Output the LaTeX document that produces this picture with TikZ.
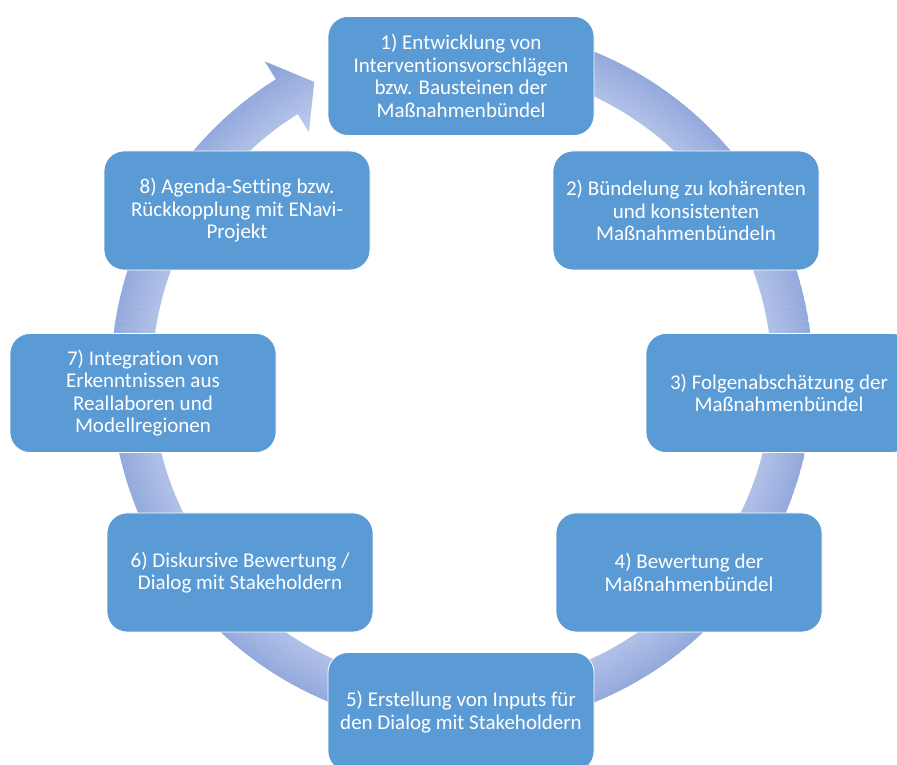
\documentclass[tikz,border=0pt]{standalone}
\usepackage{fontspec}
\setmainfont[Ligatures={NoCommon,NoContextual},Contextuals=NoAlternate]{Carlito}
\usetikzlibrary{calc}
\definecolor{boxblue}{HTML}{5B9BD5}
\definecolor{ringlight}{HTML}{B8C7EA}
\definecolor{ringdark}{HTML}{8DA4DA}
\begin{document}
\begin{tikzpicture}[x=1pt,y=1pt,
  stepbox/.style={draw=white, line width=0.8pt, fill=boxblue, rounded corners=20pt,
    minimum width=266pt, minimum height=119pt, text=white, align=center,
    font=\fontsize{21}{22.5}\selectfont, inner sep=0pt}]
\useasboundingbox (0,0) rectangle (897,765);
\coordinate (c) at (462,388);
% ring with arrowhead
\begin{scope}[shift={(c)}]
  \clip (100:351) arc[start angle=100,end angle=-238,radius=351]
    -- (-238:372) -- (-243.4:330) -- (-238:289) -- (-238:310)
    arc[start angle=-238,end angle=100,radius=310] -- cycle;
  \foreach \r in {286,288,...,376} {
    \pgfmathsetmacro\p{min(100,max(0,(\r-300)/60*100))}
    \draw[line width=2.3pt, color=ringdark!\p!ringlight] (0,0) circle[radius=\r];
  }
\end{scope}
% boxes
\node[stepbox] (n1) at (461,689) {1) Entwicklung von\\Interventionsvorschlägen\\bzw. Bausteinen der\\Maßnahmenbündel};
\node[stepbox] (n2) at (686,554.5) {2) Bündelung zu kohärenten\\und konsistenten\\Maßnahmenbündeln};
\node[stepbox] (n3) at (779,372) {3) Folgenabschätzung der\\Maßnahmenbündel};
\node[stepbox] (n4) at (689,192.5) {4) Bewertung der\\Maßnahmenbündel};
\node[stepbox] (n5) at (461,53) {5) Erstellung von Inputs für\\den Dialog mit Stakeholdern};
\node[stepbox] (n6) at (240,192.5) {6) Diskursive Bewertung /\\Dialog mit Stakeholdern};
\node[stepbox] (n7) at (143,372) {7) Integration von\\Erkenntnissen aus\\Reallaboren und\\Modellregionen};
\node[stepbox] (n8) at (237,554.5) {8) Agenda-Setting bzw.\\Rückkopplung mit ENavi-\\Projekt};
\end{tikzpicture}
\end{document}
